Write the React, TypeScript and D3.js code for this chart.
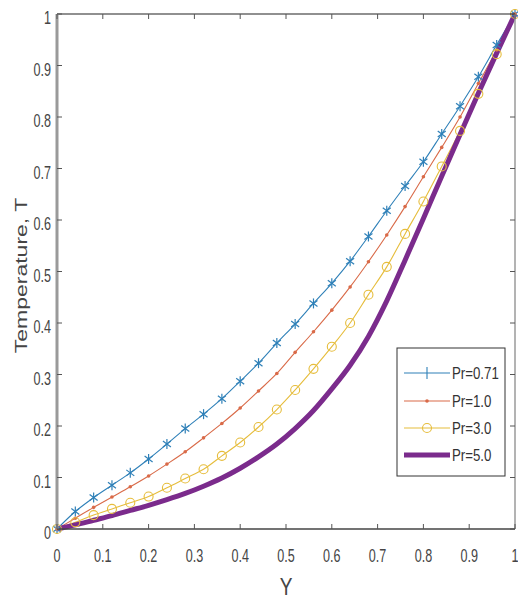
import * as d3 from 'd3';
import React from 'react';

// Y positions (step 0.04)
const yValues = [0, 0.04, 0.08, 0.12, 0.16, 0.2, 0.24, 0.28, 0.32, 0.36, 0.4, 0.44, 0.48, 0.52, 0.56, 0.6, 0.64, 0.68, 0.72, 0.76, 0.8, 0.84, 0.88, 0.92, 0.96, 1];

const pr071 = [0, 0.034, 0.061, 0.085, 0.109, 0.136, 0.165, 0.195, 0.223, 0.253, 0.287, 0.322, 0.361, 0.398, 0.438, 0.477, 0.52, 0.568, 0.618, 0.666, 0.713, 0.767, 0.821, 0.878, 0.94, 1];
const pr10 = [0, 0.021, 0.042, 0.062, 0.082, 0.103, 0.126, 0.15, 0.177, 0.205, 0.235, 0.268, 0.302, 0.343, 0.383, 0.425, 0.47, 0.519, 0.571, 0.626, 0.684, 0.741, 0.8, 0.865, 0.93, 1];
const pr30 = [0, 0.013, 0.027, 0.039, 0.051, 0.063, 0.08, 0.098, 0.116, 0.142, 0.168, 0.198, 0.232, 0.27, 0.311, 0.354, 0.4, 0.455, 0.509, 0.573, 0.636, 0.704, 0.773, 0.845, 0.922, 1];
const pr50 = [0, 0.008, 0.017, 0.026, 0.036, 0.046, 0.057, 0.069, 0.083, 0.099, 0.118, 0.14, 0.165, 0.195, 0.23, 0.272, 0.318, 0.374, 0.443, 0.522, 0.603, 0.685, 0.766, 0.846, 0.924, 1];

const seriesNames = ['Pr=0.71', 'Pr=1.0', 'Pr=3.0', 'Pr=5.0'];
const seriesValues = [pr071, pr10, pr30, pr50];
const colors = ['#2f80b8', '#d96a48', '#e6bd3c', '#7b2b8c'];
const markers = ['plus', 'dot', 'circle', 'none'];
const lineWidths = [1.1, 1.1, 1.1, 5];

const xTicks = [0, 0.1, 0.2, 0.3, 0.4, 0.5, 0.6, 0.7, 0.8, 0.9, 1];
const yTicks = [0, 0.1, 0.2, 0.3, 0.4, 0.5, 0.6, 0.7, 0.8, 0.9, 1];

const W = 518;
const H = 598;
const margin = { top: 14, right: 3, bottom: 69, left: 57 };

function Marker({ type, x, y, color }: { type: string; x: number; y: number; color: string }) {
  if (type === 'plus') {
    const s = 5;
    return (
      <g stroke={color} strokeWidth={1.2}>
        <line x1={x} y1={y - s} x2={x} y2={y + s} />
        <line x1={x - 4} y1={y - 3} x2={x + 4} y2={y + 3} />
        <line x1={x - 4} y1={y + 3} x2={x + 4} y2={y - 3} />
      </g>
    );
  }
  if (type === 'dot') return <circle cx={x} cy={y} r={1.8} fill={color} />;
  if (type === 'circle') return <circle cx={x} cy={y} r={4.5} fill="none" stroke={color} strokeWidth={1.1} />;
  return null;
}

export default function App() {
  const x = d3.scaleLinear().domain([0, 1]).range([margin.left, W - margin.right]);
  const y = d3.scaleLinear().domain([0, 1]).range([H - margin.bottom, margin.top]);
  const x0 = x(0), x1 = x(1), y0 = y(0), y1 = y(1);

  const line = d3.line<number>()
    .x((_, i) => x(yValues[i]))
    .y(d => y(d))
    .curve(d3.curveMonotoneX);

  const textCol = '#454545';
  const font = 'Liberation Sans, Arial, sans-serif';

  // legend
  const lg = { x: 397, y: 348, w: 108, h: 128 };
  const lgRows = [373, 401, 428, 455];

  return (
    <svg width={W} height={H} style={{ position: 'absolute', left: 0, top: 0, background: '#fff' }}>
      <rect x={0} y={0} width={W} height={H} fill="#fff" />
      {/* series */}
      {seriesValues.map((vals, k) => (
        <path key={'l' + k} d={line(vals) || ''} fill="none" stroke={colors[k]} strokeWidth={lineWidths[k]} strokeLinejoin="round" />
      ))}
      {seriesValues.map((vals, k) =>
        markers[k] === 'none' ? null : (
          <g key={'m' + k}>
            {vals.map((v, i) => (
              <Marker key={i} type={markers[k]} x={x(yValues[i])} y={y(v)} color={colors[k]} />
            ))}
          </g>
        )
      )}

      {/* box */}
      <line x1={x0} y1={y1} x2={x1} y2={y1} stroke="#222" strokeWidth={1.2} />
      <line x1={x1} y1={y1} x2={x1} y2={y0} stroke="#9a9a9a" strokeWidth={1.5} />
      <line x1={x0} y1={y0} x2={x1} y2={y0} stroke="#444" strokeWidth={1.5} />
      <line x1={x0} y1={y1} x2={x0} y2={y0} stroke="#9a9a9a" strokeWidth={3} />

      {/* x ticks */}
      {xTicks.map(t => (
        <g key={'xt' + t}>
          <line x1={x(t)} x2={x(t)} y1={y0} y2={y0 - 5} stroke="#555" />
          <line x1={x(t)} x2={x(t)} y1={y1} y2={y1 + 5} stroke="#555" />
          <text
            transform={`translate(${x(t)},${y0 + 33}) scale(0.7,1)`}
            textAnchor="middle"
            fontFamily={font}
            fontSize={18}
            fill={textCol}
          >
            {d3.format('~g')(t)}
          </text>
        </g>
      ))}
      {/* y ticks */}
      {yTicks.map(t => (
        <g key={'yt' + t}>
          <line x1={x0} x2={x0 + 5} y1={y(t)} y2={y(t)} stroke="#555" />
          <line x1={x1} x2={x1 - 5} y1={y(t)} y2={y(t)} stroke="#555" />
          <text
            transform={`translate(${x0 - 6},${y(t) + 10}) scale(0.7,1)`}
            textAnchor="end"
            fontFamily={font}
            fontSize={18}
            fill={textCol}
          >
            {d3.format('~g')(t)}
          </text>
        </g>
      ))}

      {/* axis labels */}
      <text
        transform={`translate(${(x0 + x1) / 2},${595}) scale(0.83,1)`}
        textAnchor="middle"
        fontFamily={font}
        fontSize={23}
        fill={textCol}
      >
        Y
      </text>
      <text
        transform={`translate(27,${(y0 + y1) / 2 + 4}) rotate(-90) scale(1,0.68)`}
        textAnchor="middle"
        fontFamily={font}
        fontSize={23}
        fill={textCol}
      >
        Temperature, T
      </text>

      {/* legend */}
      <rect x={lg.x} y={lg.y} width={lg.w} height={lg.h} fill="#fff" stroke="#333" strokeWidth={1} />
      {seriesNames.map((name, k) => (
        <g key={'lg' + k}>
          <line x1={404} x2={450} y1={lgRows[k]} y2={lgRows[k]} stroke={colors[k]} strokeWidth={lineWidths[k]} />
          {markers[k] === 'plus' ? (
            <g stroke={colors[k]} strokeWidth={1.1}>
              <line x1={427} x2={427} y1={lgRows[k] - 6} y2={lgRows[k] + 6} />
            </g>
          ) : (
            <Marker type={markers[k]} x={427} y={lgRows[k]} color={colors[k]} />
          )}
          <text
            transform={`translate(452,${lgRows[k] + 6}) scale(0.78,1)`}
            fontFamily={font}
            fontSize={17}
            fill="#333"
          >
            {name}
          </text>
        </g>
      ))}
    </svg>
  );
}
